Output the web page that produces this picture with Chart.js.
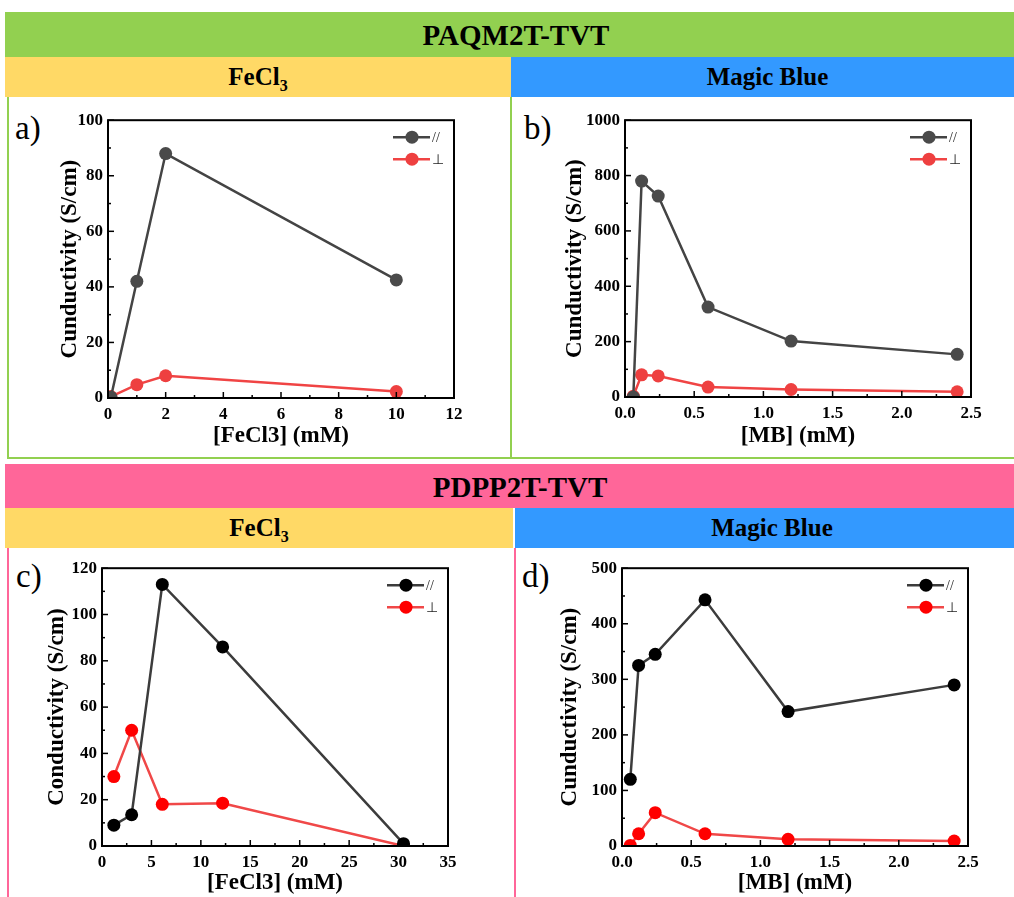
<!DOCTYPE html>
<html>
<head>
<meta charset="utf-8">
<script src="https://cdn.jsdelivr.net/npm/chart.js"></script>
<style>
  body { margin:0; width:1014px; height:897px; overflow:hidden; background:#fff; position:relative; font-family:'Liberation Serif', serif; }
  .bar { position:absolute; text-align:center; font-weight:bold; color:#000; }
  .ln { position:absolute; }
  .lett { position:absolute; font-size:33px; line-height:33px; color:#000; }
  canvas { position:absolute; }
</style>
</head>
<body>
<div class="bar" style="left:5px;top:12px;width:1022px;height:45px;background:#92D050;font-size:29px;line-height:47px;">PAQM2T-TVT</div>
<div class="bar" style="left:5px;top:57px;width:506px;height:40px;background:#FFD966;font-size:25px;line-height:40px;">FeCl<sub style="font-size:16px;">3</sub></div>
<div class="bar" style="left:511px;top:57px;width:513px;height:40px;background:#3399FF;font-size:25px;line-height:40px;">Magic Blue</div>
<div class="ln" style="left:7px;top:97px;width:2px;height:362px;background:#92D050;"></div>
<div class="ln" style="left:510px;top:97px;width:2px;height:362px;background:#92D050;"></div>
<div class="ln" style="left:7px;top:457px;width:1007px;height:2px;background:#92D050;"></div>

<div class="bar" style="left:5px;top:464px;width:1030px;height:44px;background:#FF6699;font-size:29px;line-height:46px;">PDPP2T-TVT</div>
<div class="bar" style="left:5px;top:508px;width:508px;height:40px;background:#FFD966;font-size:25px;line-height:40px;">FeCl<sub style="font-size:16px;">3</sub></div>
<div class="bar" style="left:515px;top:508px;width:514px;height:40px;background:#3399FF;font-size:25px;line-height:40px;">Magic Blue</div>
<div class="ln" style="left:7px;top:548px;width:2px;height:349px;background:#FF6699;"></div>
<div class="ln" style="left:514px;top:548px;width:2px;height:349px;background:#FF6699;"></div>

<div class="lett" style="left:15px;top:112px;">a)</div>
<div class="lett" style="left:524px;top:112px;">b)</div>
<div class="lett" style="left:16px;top:560px;">c)</div>
<div class="lett" style="left:522px;top:560px;">d)</div>

<canvas id="ca" width="440" height="345" style="left:40px;top:105px;"></canvas>
<canvas id="cb" width="460" height="345" style="left:545px;top:105px;"></canvas>
<canvas id="cc" width="450" height="344" style="left:27px;top:553px;"></canvas>
<canvas id="cd" width="460" height="344" style="left:540px;top:553px;"></canvas>

<script>
// PAQM2T-TVT, FeCl3
var aConc = [0.1, 1, 2, 10];
var aPara = [0.3, 42, 88, 42.5];
var aPerp = [0.5, 4.8, 8, 2.3];
// PAQM2T-TVT, Magic Blue
var bConc = [0.06, 0.12, 0.24, 0.6, 1.2, 2.4];
var bPara = [0, 780, 726, 325, 202, 154];
var bPerp = [3, 80, 76, 36, 27, 19];
// PDPP2T-TVT, FeCl3
var cConc = [1.2, 3, 6.1, 12.2, 30.5];
var cPara = [9, 13.5, 113, 86, 1];
var cPerp = [30, 50, 18, 18.5, 0];
// PDPP2T-TVT, Magic Blue
var dConc = [0.06, 0.12, 0.24, 0.6, 1.2, 2.4];
var dPara = [120, 325, 345, 443, 242, 290];
var dPerp = [1, 22, 60, 22, 12, 9];

var seriesNames = ['//', '\u22A5'];

function pts(xs, ys) {
  var out = [];
  for (var i = 0; i < xs.length; i++) out.push({x: xs[i], y: ys[i]});
  return out;
}

function line(ctx, x1, y1, x2, y2) {
  ctx.beginPath(); ctx.moveTo(x1, y1); ctx.lineTo(x2, y2); ctx.stroke();
}

var framePlugin = {
  id: 'frame',
  afterDatasetsDraw: function(chart) {
    var ctx = chart.ctx, a = chart.chartArea, xs = chart.scales.x, ys = chart.scales.y;
    ctx.save();
    ctx.strokeStyle = '#000';
    ctx.lineWidth = 1.5;
    var xt = xs.ticks, yt = ys.ticks;
    for (var i = 0; i < xt.length; i++) {
      var px = xs.getPixelForValue(xt[i].value);
      line(ctx, px, a.bottom, px, a.bottom - 6);
      if (i < xt.length - 1) {
        var m = xs.getPixelForValue((xt[i].value + xt[i + 1].value) / 2);
        line(ctx, m, a.bottom, m, a.bottom - 3);
      }
    }
    for (var j = 0; j < yt.length; j++) {
      var py = ys.getPixelForValue(yt[j].value);
      line(ctx, a.left, py, a.left + 6, py);
      if (j < yt.length - 1) {
        var n = ys.getPixelForValue((yt[j].value + yt[j + 1].value) / 2);
        line(ctx, a.left, n, a.left + 3, n);
      }
    }
    ctx.lineWidth = 2;
    ctx.strokeRect(a.left, a.top, a.right - a.left, a.bottom - a.top);
    // legend, top right inside the frame
    chart.data.datasets.forEach(function(ds, k) {
      var y = a.top + 17 + k * 22;
      ctx.strokeStyle = ds.borderColor;
      ctx.lineWidth = 2.5;
      line(ctx, a.right - 61, y, a.right - 24, y);
      ctx.fillStyle = ds.pointBackgroundColor;
      ctx.beginPath(); ctx.arc(a.right - 42, y, 6.5, 0, Math.PI * 2); ctx.fill();
      ctx.fillStyle = '#222';
      ctx.font = '14px "Liberation Serif"';
      ctx.textBaseline = 'middle';
      ctx.fillText(ds.label, a.right - 22, y + 1);
    });
    ctx.restore();
  }
};

function makePanel(id, box, area, xs, para, perp, xr, yr, xTitle, yTitle, dark, paraLine, red, redLine, xDec) {
  var tickFont = {family: 'Liberation Serif', size: 17, weight: 'bold'};
  var titleFont = {family: 'Liberation Serif', size: 23, weight: 'bold'};
  new Chart(document.getElementById(id), {
    type: 'scatter',
    data: {
      datasets: [
        {label: seriesNames[0], data: pts(xs, para), showLine: true, borderColor: paraLine, borderWidth: 2.5,
         pointBackgroundColor: dark, pointBorderColor: dark, pointRadius: 6.5, pointBorderWidth: 0},
        {label: seriesNames[1], data: pts(xs, perp), showLine: true, borderColor: redLine, borderWidth: 2.5,
         pointBackgroundColor: red, pointBorderColor: red, pointRadius: 6.5, pointBorderWidth: 0}
      ]
    },
    options: {
      responsive: false,
      animation: false,
      layout: {padding: {left: 0, top: area.t - box.t, right: box.l + box.w - area.r, bottom: 0}},
      plugins: {legend: {display: false}, tooltip: {enabled: false}},
      scales: {
        x: {
          type: 'linear', min: xr[0], max: xr[1],
          grid: {display: false, drawTicks: false, tickLength: 0},
          border: {display: false},
          afterFit: function(s) { s.height = box.t + box.h - area.b; },
          ticks: {stepSize: xr[2], padding: 6, color: '#000', font: tickFont, maxRotation: 0,
                  callback: function(v) { return xDec ? v.toFixed(1) : String(v); }},
          title: {display: true, text: xTitle, color: '#000', font: titleFont, padding: {top: 0, bottom: 0}}
        },
        y: {
          type: 'linear', min: yr[0], max: yr[1],
          grid: {display: false, drawTicks: false, tickLength: 0},
          border: {display: false},
          afterFit: function(s) { s.width = area.l - box.l; },
          ticks: {stepSize: yr[2], padding: 5, color: '#000', font: tickFont,
                  callback: function(v) { return String(v); }},
          title: {display: true, text: yTitle, color: '#000', font: titleFont, padding: {top: 16, bottom: 0}}
        }
      }
    },
    plugins: [framePlugin]
  });
}

makePanel('ca', {l: 40, t: 105, w: 440, h: 345}, {l: 108, t: 120, r: 454, b: 398},
  aConc, aPara, aPerp, [0, 12, 2], [0, 100, 20], '[FeCl3] (mM)', 'Cunductivity (S/cm)',
  '#4a4a4a', '#444444', '#ee4040', '#f04444', false);
makePanel('cb', {l: 545, t: 105, w: 460, h: 345}, {l: 625, t: 120, r: 971, b: 397},
  bConc, bPara, bPerp, [0, 2.5, 0.5], [0, 1000, 200], '[MB] (mM)', 'Cunductivity (S/cm)',
  '#4a4a4a', '#444444', '#ee4040', '#f04444', true);
makePanel('cc', {l: 27, t: 553, w: 450, h: 344}, {l: 102, t: 568, r: 448, b: 846},
  cConc, cPara, cPerp, [0, 35, 5], [0, 120, 20], '[FeCl3] (mM)', 'Conductivity (S/cm)',
  '#000000', '#3c3c3c', '#ff0000', '#f04848', false);
makePanel('cd', {l: 540, t: 553, w: 460, h: 344}, {l: 622, t: 568, r: 968, b: 846},
  dConc, dPara, dPerp, [0, 2.5, 0.5], [0, 500, 100], '[MB] (mM)', 'Cunductivity (S/cm)',
  '#000000', '#3c3c3c', '#ff0000', '#f04848', true);
</script>
</body>
</html>
